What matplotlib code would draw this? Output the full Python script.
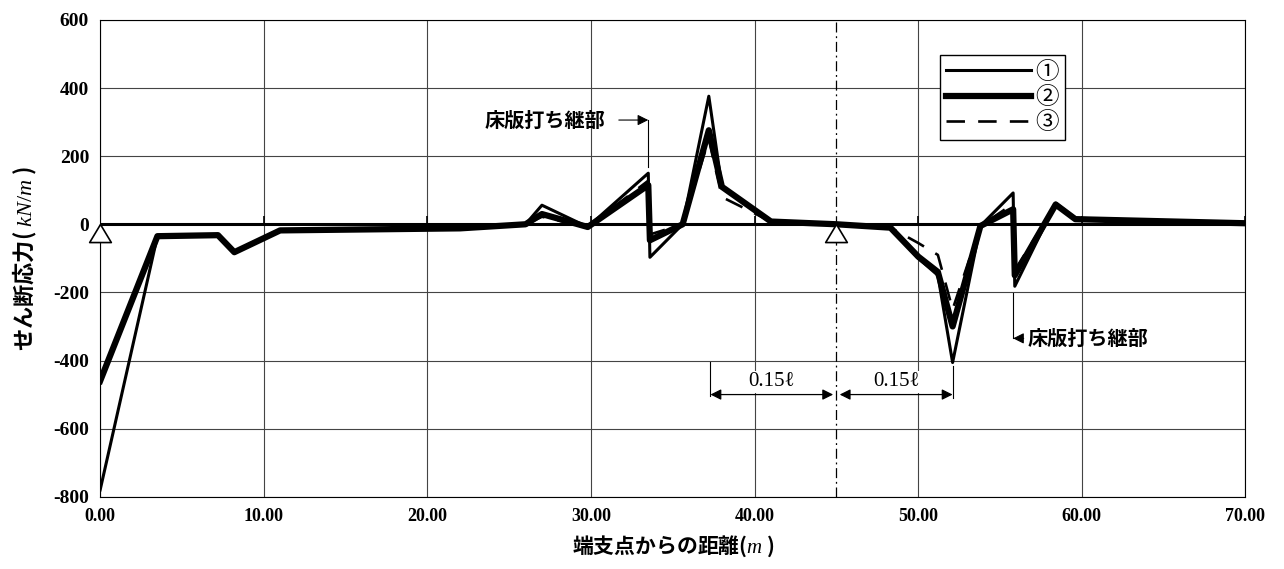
import numpy as np
import matplotlib
matplotlib.use("Agg")
import matplotlib.pyplot as plt

plt.rcParams['font.family'] = ['Noto Sans CJK JP', 'DejaVu Sans']
plt.rcParams['mathtext.fontset'] = 'custom'
plt.rcParams['mathtext.it'] = 'Liberation Serif:italic'
plt.rcParams['mathtext.rm'] = 'Liberation Serif'

# distance from end support (m)
x = [0.0, 3.5, 7.2, 8.2, 11.0, 22.0, 26.0, 27.0, 29.8, 33.5, 33.6, 35.6, 37.2, 38.0, 41.0,
     45.0, 48.3, 50.0, 51.2, 52.1, 53.8, 55.8, 55.9, 58.4, 59.6, 70.0]

# shear force (kN/m)
s1 = [-780, -35, -32, -82, -18, -12, 0, 56, -8, 150, -97, 0, 376, 110, 8,
      0, -10, -100, -150, -406, -5, 92, -182, 62, 18, 3]
s2 = [-460, -35, -32, -82, -18, -12, 0, 30, -8, 115, -47, 0, 276, 110, 8,
      0, -10, -95, -140, -300, -5, 44, -150, 58, 15, 3]
s3 = [-460, -35, -32, -82, -18, -12, 0, 22, -8, 128, -30, 0, 250, 80, 8,
      0, -10, -55, -90, -250, -5, 60, -135, 58, 15, 3]
labels = ["①", "②", "③"]

supports = [0.0, 45.0]
xticks = np.arange(0, 71, 10)
yticks = np.arange(-800, 601, 200)

fig = plt.figure(figsize=(12.84, 5.69), dpi=100)
ax = fig.add_axes([0.078, 0.127, 0.892, 0.838])

ax.set_xlim(0, 70)
ax.set_ylim(-800, 600)
ax.set_xticks(xticks)
ax.set_yticks(yticks)
ax.set_xticklabels(["%.2f" % v for v in xticks], family="Liberation Serif",
                   fontsize=13, fontweight="bold")
ax.set_yticklabels(["%d" % v for v in yticks], family="Liberation Serif",
                   fontsize=14, fontweight="bold")
ax.tick_params(length=0, pad=8)
ax.grid(True, color="#444444", linewidth=0.8)
for sp in ax.spines.values():
    sp.set_linewidth(0.8)

# zero line with small ticks
ax.axhline(0, color="black", linewidth=2.2, zorder=2)
ax.plot(xticks, np.zeros(len(xticks)), linestyle="none", marker=2, markersize=6,
        color="black", markeredgewidth=1.2, zorder=2)

# centre support line
ax.axvline(supports[1], color="black", linewidth=0.9, linestyle=(0, (8, 3, 1.5, 3)), zorder=2)

ax.plot(x, s1, color="black", linewidth=2.2, label=labels[0], zorder=4)
ax.plot(x, s2, color="black", linewidth=4.5, label=labels[1], zorder=3)
ax.plot(x, s3, color="black", linewidth=1.9, linestyle=(0, (7, 5)), label=labels[2], zorder=5)

# supports (hollow triangles, apex on the zero line)
tri = [(0, 0), (-0.6, -1), (0.6, -1), (0, 0)]
ax.plot(supports, [0, 0], linestyle="none", marker=tri, markersize=26,
        markerfacecolor="white", markeredgecolor="black", markeredgewidth=1.2,
        zorder=6, clip_on=False)

leg = ax.legend(loc="upper left", bbox_to_anchor=(0.733, 0.927), fontsize=17,
                handlelength=3.6, labelspacing=0.1, handletextpad=0.2,
                borderpad=0.25, borderaxespad=0, fancybox=False, framealpha=1,
                edgecolor="black")
leg.get_frame().set_linewidth(1.0)

# construction joint annotations
ax.text(30.9, 306, "床版打ち継部", fontsize=14.5, fontweight="bold", ha="right", va="center")
ax.annotate("", xy=(33.5, 306), xytext=(31.7, 306),
            arrowprops=dict(arrowstyle="-|>", color="black", lw=0.8,
                            mutation_scale=16, shrinkA=0, shrinkB=0))
ax.plot([33.5, 33.5], [306, 168], color="black", linewidth=0.8)

ax.plot([55.8, 55.8], [-203, -335], color="black", linewidth=0.8)
ax.annotate("床版打ち継部", xy=(55.8, -335), xytext=(56.7, -335), fontsize=14.5,
            fontweight="bold", ha="left", va="center",
            arrowprops=dict(arrowstyle="-|>", color="black", lw=0.8,
                            mutation_scale=16, shrinkA=1, shrinkB=0))

# 0.15 l dimension marks
for x0, x1 in [(37.3, 44.8), (45.2, 52.1)]:
    ax.annotate("", xy=(x0, -500), xytext=(x1, -500),
                arrowprops=dict(arrowstyle="<|-|>", color="black", lw=0.9,
                                mutation_scale=16, shrinkA=0, shrinkB=0))
    ax.text((x0 + x1) / 2, -462, "0.15ℓ", family=["Liberation Serif", "DejaVu Serif"],
            fontsize=15, ha="center", va="center",
            bbox=dict(facecolor="white", edgecolor="none", pad=1))
ax.plot([37.3, 37.3], [-405, -505], color="black", linewidth=0.8)
ax.plot([52.1, 52.1], [-415, -510], color="black", linewidth=0.8)

ax.set_ylabel("せん断応力( $kN/m$ )", fontsize=16, fontweight="bold", labelpad=10)
ax.set_xlabel("端支点からの距離($m$ )", fontsize=15, fontweight="bold", labelpad=6)

plt.savefig("out.png", dpi=100)
